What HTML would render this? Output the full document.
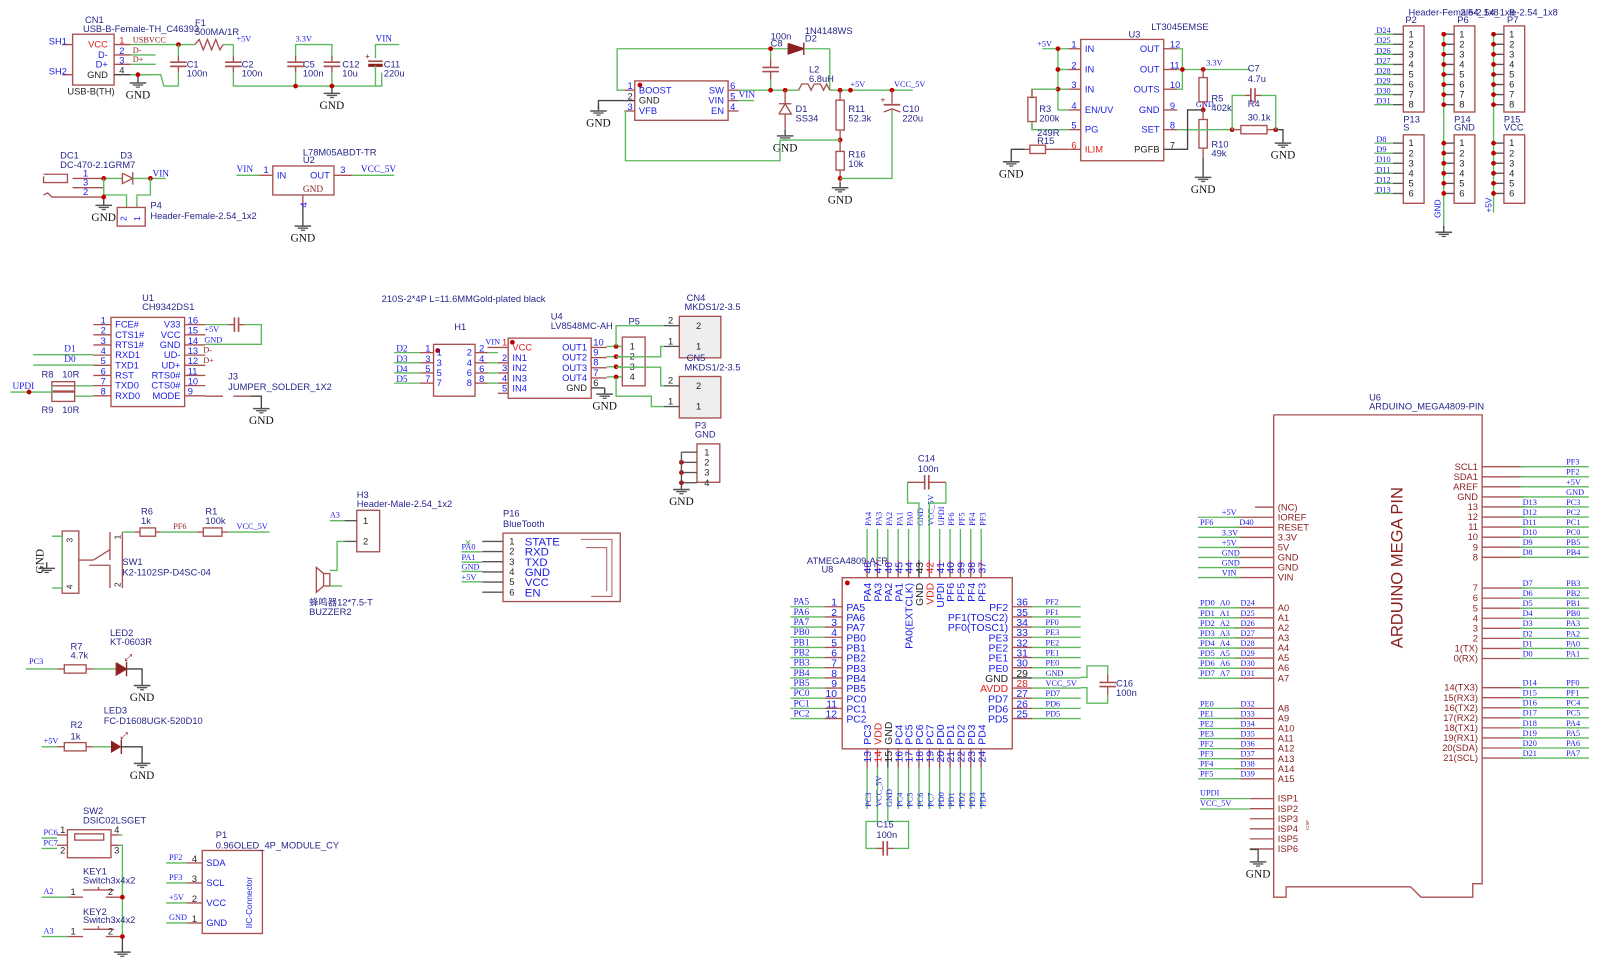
<!DOCTYPE html>
<html><head><meta charset="utf-8"><style>
html,body{margin:0;padding:0;background:#fff;}
svg{display:block;}
</style></head><body>
<svg id="s" xmlns="http://www.w3.org/2000/svg" width="1618" height="971" viewBox="0 0 1560 936.2" preserveAspectRatio="none"></svg>
<script>
var S=document.getElementById('s'),out=[];
var RED='#a85050',GR='#5cb85c',BL='#1a1ae6',NM='#26268a',DR='#8b2020';
function L(x1,y1,x2,y2,c,w){out.push('<line x1="'+x1+'" y1="'+y1+'" x2="'+x2+'" y2="'+y2+'" stroke="'+(c||GR)+'" stroke-width="'+(w||1.3)+'"/>');}
function PL(pts,c,w){out.push('<polyline points="'+pts+'" fill="none" stroke="'+(c||GR)+'" stroke-width="'+(w||1.3)+'"/>');}
function T(x,y,s,o){o=o||{};var f=o.serif?'"Liberation Serif",serif':'"Liberation Sans","Noto Sans CJK SC",sans-serif';
 var tr=o.rot?' transform="rotate(-90 '+x+' '+y+')"':'';
 out.push('<text x="'+x+'" y="'+y+'" font-family=\''+f+'\' font-size="'+(o.sz||9)+'" fill="'+(o.c||BL)+'" text-anchor="'+(o.a||'start')+'"'+tr+'>'+s+'</text>');}
function N(x,y,s){T(x,y,s,{c:NM,sz:9});}
function SL(x,y,s,o){o=o||{};o.serif=true;o.sz=o.sz||9;T(x,y,s,o);}
function B(x,y,w,h,fill){out.push('<rect x="'+x+'" y="'+y+'" width="'+w+'" height="'+h+'" fill="'+(fill||'none')+'" stroke="'+RED+'" stroke-width="1.3"/>');}
function D(x,y){out.push('<circle cx="'+x+'" cy="'+y+'" r="2.3" fill="#c00000"/>');}
function G(x,y,lab){L(x,y,x,y+6,'#444');L(x-8,y+6,x+8,y+6,'#555',1.5);L(x-5,y+8,x+5,y+8,'#555',1.3);L(x-2,y+10,x+2,y+10,'#555',1.2);if(lab!==false)SL(x,y+21,'GND',{c:'#111',sz:11,a:'middle'});}
function RV(x,y1,y2){L(x,y1,x,y1+(y2-y1)*0.2,RED);B(x-4,y1+(y2-y1)*0.2,8,(y2-y1)*0.6);L(x,y1+(y2-y1)*0.8,x,y2,RED);}
function RH(x1,x2,y){L(x1,y,x1+(x2-x1)*0.2,y,RED);B(x1+(x2-x1)*0.2,y-4,(x2-x1)*0.6,8);L(x1+(x2-x1)*0.8,y,x2,y,RED);}
function CV(x,y1,y2){var m=(y1+y2)/2;L(x,y1,x,m-2,RED);L(x,m+2,x,y2,RED);L(x-8,m-2,x+8,m-2,RED,1.6);L(x-8,m+2,x+8,m+2,RED,1.6);}
function CH(x1,x2,y){var m=(x1+x2)/2;L(x1,y,m-2,y,RED);L(m+2,y,x2,y,RED);L(m-2,y-7,m-2,y+7,RED,1.6);L(m+2,y-7,m+2,y+7,RED,1.6);}

/* ===== USB CN1 ===== */
B(70,33,40,49);
[[43,'VCC','#e02020','1'],[53,'D-',BL,'2'],[62,'D+',BL,'3'],[72,'GND','#222','4']].forEach(function(p,i){L(110,p[0],126,p[0],i==3?'#444':RED);L(126,p[0],150,p[0],GR);T(104,p[0]+3,p[1],{c:p[2],a:'end',sz:9});T(115,p[0]-1,p[3],{c:i==0?'#e02020':i==3?'#222':BL,sz:9});});
L(60,43,70,43,RED);L(60,72,70,72,RED);T(47,43,'SH1',{sz:9});T(47,72,'SH2',{sz:9});
N(82,22,'CN1');N(80,31,'USB-B-Female-TH_C46393');T(65,91,'USB-B(TH)',{c:'#222',sz:9});
SL(128,41,'USBVCC',{c:DR,sz:8});SL(128,51,'D-',{c:DR,sz:8});SL(128,60,'D+',{c:DR,sz:8});
L(150,43,188,43);D(172,43);PL('188,43 192,38 196,48 200,38 204,48 208,38 212,48 215,43',RED);L(215,43,225,43);
SL(228,40,'+5V',{sz:8});N(188,25,'F1');N(188,34,'500MA/1R');
PL('126,72 155,72 158,83 172,83');D(133,72);G(133,74);
L(172,43,172,54);CV(172,54,70);L(172,70,172,83);N(180,65,'C1');N(180,74,'100n');
L(225,43,225,54);CV(225,54,70);PL('225,70 225,83 368,83 368,70');N(233,65,'C2');N(233,74,'100n');
PL('285,56 285,43 320,43 320,56');CV(285,54,70);L(285,70,285,83);CV(320,54,70);L(320,70,320,83);D(285,83);D(320,83);G(320,84);
N(292,65,'C5');N(292,74,'100n');N(330,65,'C12');N(330,74,'10u');SL(285,40,'3.3V',{sz:8});
PL('362,56 362,43 385,43');L(355,59,369,59,RED,1.6);L(355,63,369,63,DR,3);T(352,57,'+',{c:DR,sz:8});L(362,63,362,83);N(370,65,'C11');N(370,74,'220u');SL(362,40,'VIN',{sz:9});

/* DC1 */
PL('42,170 42,176 65,176 65,168 42,168',RED);L(70,172,100,172,RED);L(70,181,100,181,RED);PL('42,188 46,186 50,190 100,190',RED);
T(80,170,'1');T(80,179,'3');T(80,188,'2');N(58,153,'DC1');N(58,162,'DC-470-2.1GRM7');
L(100,172,118,172);PL('118,167 118,177 128,172 118,167',RED);L(128,166,128,178,RED);L(128,172,160,172);D(100,172);D(145,172);SL(147,170,'VIN');
N(116,153,'D3');PL('100,172 100,188 122,188 122,200');PL('145,172 145,188 132,188 132,200');L(100,181,100,190);D(100,190);G(100,192);
B(113,200,27,18);T(122,213,'2',{sz:8,rot:true});T(135,213,'1',{sz:8,rot:true});N(145,201,'P4');N(145,211,'Header-Female-2.54_1x2');

/* U2 */
B(263,160,59,28);T(267,172,'IN',{sz:9});T(318,172,'OUT',{sz:9,a:'end'});SL(292,185,'GND',{c:DR});
L(228,169,250,169);L(250,169,263,169,RED);T(254,167,'1');SL(228,166,'VIN');L(322,169,340,169,RED);L(340,169,380,169);T(328,167,'3');SL(348,166,'VCC_5V');
L(292,188,292,197,RED);L(292,197,292,212,'#444');T(296,200,'4',{rot:true});G(292,212);N(292,150,'L78M05ABDT-TR');N(292,157,'U2');

/* MCP16331 */
B(612,78,90,38);D(617,82);T(616,90,'BOOST');T(616,100,'GND',{c:'#222'});T(616,110,'VFB');T(698,90,'SW',{a:'end'});T(698,100,'VIN',{a:'end'});T(698,110,'EN',{a:'end'});
L(602,87,612,87,RED);L(602,97,612,97,'#444');L(602,107,612,107,RED);T(605,86,'1');T(605,96,'2',{c:'#222'});T(605,106,'3');
L(702,87,712,87,RED);L(702,97,712,97,RED);L(702,107,712,107,RED);T(704,86,'6');T(704,96,'5');T(704,106,'4');
SL(712,94,'VIN');L(712,97,727,97);
PL('602,87 595,87 595,47 760,47');PL('577,105 577,97 602,97','#444');G(577,101);
L(743,47,743,57);CV(743,57,77);L(743,77,743,87);D(743,47);N(743,38,'100n');N(743,45,'C8');
PL('760,42 760,52 775,47 760,42',DR);out.push('<polygon points="760,42 760,52 775,47" fill="'+DR+'"/>');L(775,41,775,53,DR);L(775,47,800,47);PL('800,47 800,87');N(776,33,'1N4148WS');N(776,40,'D2');
L(712,87,770,87);PL('770,87 773,81 779,81 782,87 785,81 791,81 794,87 797,81 800,87',RED);L(800,87,880,87);N(780,70,'L2');N(780,79,'6.8uH');
D(743,87);D(757,87);D(810,87);D(820,87);D(860,87);SL(820,84,'+5V',{sz:8});SL(862,84,'VCC_5V',{sz:8});
L(757,87,757,100,RED);PL('751,110 763,110 757,100 751,110',RED);L(751,100,763,100,RED);L(757,110,757,125,RED);G(757,125);N(767,108,'D1');N(767,117,'SS34');
RV(810,87,135);D(810,135);RV(810,140,170);D(810,172);L(810,135,810,140,RED);G(810,175);N(818,108,'R11');N(818,117,'52.3k');N(818,152,'R16');N(818,161,'10k');
PL('602,107 603,107 603,155 752,155 752,135 810,135');
L(860,87,860,100,RED);L(852,101,868,101,RED,1.6);PL('852,108 860,105 868,108',RED);T(849,99,'+',{c:DR,sz:8});PL('860,106 860,172 810,172');N(870,108,'C10');N(870,117,'220u');

/* LT3045 */
B(1042,38,80,117);var ly=[47,67,86,106,125,144],ln=['IN','IN','IN','EN/UV','PG','ILIM'],rn=['OUT','OUT','OUTS','GND','SET','PGFB'],rp=['12','11','10','9','8','7'];
ly.forEach(function(y,i){L(1030,y,1042,y,RED);L(1122,y,1135,y,i==5?'#444':RED);T(1046,y+3,ln[i],{c:i==5?'#e02020':BL});T(1118,y+3,rn[i],{a:'end',c:i==5?'#222':BL});T(1033,y-1,''+(i+1),{c:i==5?'#e02020':BL});T(1128,y-1,rp[i],{c:i==5?'#222':BL});});
N(1110,29,'LT3045EMSE');N(1088,36,'U3');SL(1000,45,'+5V',{sz:8});L(1005,47,1030,47);PL('1020,47 1020,106 1030,106');L(1020,67,1030,67);L(1020,86,1030,86);D(1020,47);D(1020,67);D(1020,86);
PL('1020,86 995,86 995,95');RV(995,86,125);PL('995,117 995,125 1030,125');N(1002,108,'R3');N(1002,117,'200k');
L(1030,144,1013,144,RED);RH(988,1013,144);PL('988,144 975,144 975,150','#444');G(975,150);N(1000,131,'249R');N(1000,139,'R15');
PL('1135,47 1140,47 1140,86 1135,86');L(1135,67,1205,67);D(1140,67);D(1160,67);SL(1163,63,'3.3V',{sz:8});SL(1153,103,'GND',{sz:8});
RV(1160,67,106);D(1160,106);RV(1160,106,152);L(1160,152,1160,165,'#444');G(1160,165);N(1168,98,'R5');N(1168,107,'402k');N(1168,142,'R10');N(1168,151,'49k');
L(1135,125,1188,125);D(1188,125);RH(1188,1230,125);D(1230,125);PL('1230,125 1237,125 1237,132','#444');G(1237,132);
PL('1188,125 1188,92 1200,92');CH(1200,1216,92);PL('1216,92 1230,92 1230,125');N(1203,69,'C7');N(1203,79,'4.7u');N(1203,103,'R4');N(1203,116,'30.1k');
PL('1135,144 1145,144 1145,106 1160,106','#444');

/* Headers top-right */
function hdr(x,y,n,h){B(x,y,20,h);for(var i=0;i<n;i++){var yy=y+8+i*9.7;L(x-10,yy,x,yy,'#555');T(x+5,yy+3,''+(i+1),{c:'#222'});}}
hdr(1353,25,8,83);hdr(1402,25,8,83);hdr(1450,25,8,83);hdr(1353,130,6,66);hdr(1402,130,6,66);hdr(1450,130,6,66);
for(var i=0;i<8;i++){var yy=33+i*9.7;L(1325,yy,1343,yy);SL(1327,yy-1,'D'+(24+i),{sz:8});L(1392,yy,1392,yy);}
for(var i=0;i<6;i++){var yy=138+i*9.7;L(1325,yy,1343,yy);SL(1327,yy-1,'D'+(8+i),{sz:8});}
L(1392,33,1392,220);for(var i=0;i<8;i++){D(1392,33+i*9.7);}for(var i=0;i<6;i++){D(1392,138+i*9.7);}G(1392,218,false);T(1389,210,'GND',{rot:true,sz:8});
L(1440,33,1440,205);for(var i=0;i<8;i++){D(1440,33+i*9.7);}for(var i=0;i<6;i++){D(1440,138+i*9.7);}T(1438,205,'+5V',{rot:true,sz:8});
N(1358,15,'Header-Female-2.54_1x8');N(1408,15,'2.54_1x8');N(1455,15,'le-2.54_1x8');N(1355,22,'P2');N(1405,22,'P6');N(1453,22,'P7');
N(1353,118,'P13');N(1353,126,'S');N(1402,118,'P14');N(1402,126,'GND');N(1450,118,'P15');N(1450,126,'VCC');

/* CH9342 U1 */
B(107,306,71,86);var cl=['FCE#','CTS1#','RTS1#','RXD1','TXD1','RST','TXD0','RXD0'],cr=['V33','VCC','GND','UD-','UD+','RTS0#','CTS0#','MODE'],cp=['16','15','14','13','12','11','10','9'];
for(var i=0;i<8;i++){var yy=313+i*9.8;L(90,yy,107,yy,RED);L(178,yy,198,yy,RED);T(111,yy+3,cl[i]);T(174,yy+3,cr[i],{a:'end'});T(97,yy-1,''+(i+1));T(181,yy-1,cp[i]);}
N(137,290,'U1');N(137,299,'CH9342DS1');L(32,342,90,342);L(32,352,90,352);SL(62,339,'D1');SL(62,349,'D0');
B(50,368,22,9);B(50,378,22,9);L(50,372,72,372,RED);PL('28,378 50,378 50,372',GR);PL('72,372 90,372');PL('72,382 90,382');L(10,378,30,378);D(28,378);SL(12,375,'UPDI');
N(40,364,'R8');N(60,364,'10R');N(40,398,'R9');N(60,398,'10R');
L(198,313,220,313);CH(220,236,313);PL('236,313 252,313 252,332 198,332');SL(197,320,'+5V',{sz:8});SL(197,330,'GND',{sz:8});SL(196,340,'D-',{c:DR,sz:8});SL(196,350,'D+',{c:DR,sz:8});
L(198,382,215,382,RED);L(225,382,242,382,RED);PL('242,382 252,382 252,388','#444');G(252,388);N(220,366,'J3');N(220,376,'JUMPER_SOLDER_1X2');

/* H1 / U4 */
N(368,291,'210S-2*4P L=11.6MMGold-plated black');N(438,318,'H1');B(418,332,40,50);D(422,338);
for(var i=0;i<4;i++){var yy=340+i*9.8;L(380,yy,405,yy);L(405,yy,418,yy,RED);L(458,yy,470,yy,RED);L(470,yy,480,yy);L(480,yy+9.8,490,yy+9.8,RED);SL(382,yy-1,'D'+(2+i));T(410,yy-1,''+(2*i+1));T(421,yy+3,''+(2*i+1));T(450,yy+3,''+(2*i+2));T(462,yy-1,''+(2*i+2));T(484,yy+8,''+(i+2));}
B(490,326,80,58);D(494,330);T(494,338,'VCC',{c:'#e02020'});['IN1','IN2','IN3','IN4'].forEach(function(s,i){T(494,348+i*9.8,s);});
['OUT1','OUT2','OUT3','OUT4'].forEach(function(s,i){T(566,338+i*9.8,s,{a:'end'});L(570,335+i*9.8,585,335+i*9.8,RED);T(572,333+i*9.8,''+(10-i));});T(566,377,'GND',{a:'end',c:'#222'});T(572,372,'6',{c:'#222'});
L(470,335,490,335,RED);SL(468,332,'VIN',{sz:8});T(484,333,'1',{c:'#e02020'});L(570,374,583,374,'#444');G(583,374);
N(531,308,'U4');N(531,317,'LV8548MC-AH');
B(600,325,22,47);N(606,313,'P5');for(var i=0;i<4;i++){var yy=334+i*9.8;L(585,yy,600,yy);D(594,yy);T(607,yy+3,''+(i+1),{c:'#222'});}
B(655,305,40,40,'#eee');B(655,363,40,40,'#eee');T(671,317,'2',{c:'#222'});T(671,337,'1',{c:'#222'});T(671,375,'2',{c:'#222'});T(671,395,'1',{c:'#222'});
L(640,314,655,314,'#555');L(640,334,655,334,'#555');L(640,372,655,372,'#555');L(640,392,655,392,'#555');T(644,312,'2',{c:'#222'});T(644,332,'1',{c:'#222'});T(644,370,'2',{c:'#222'});T(644,390,'1',{c:'#222'});
PL('594,334 594,314 640,314');PL('594,344 637,344 637,334 640,334');PL('594,354 637,354 637,372 640,372');PL('594,364 594,382 628,382 628,392 640,392');
N(662,290,'CN4');N(660,299,'MKDS1/2-3.5');N(662,348,'CN5');N(660,357,'MKDS1/2-3.5');
B(672,428,22,37);N(670,413,'P3');N(670,422,'GND');for(var i=0;i<4;i++){var yy=436+i*9.8;L(657,yy,672,yy,'#555');T(679,yy+3,''+(i+1),{c:'#222'});if(i)D(657,yy);}L(657,436,657,466,'#555');G(657,466);

/* SW1 */
B(60,512,16,60);T(70,523,'3',{c:'#222',sz:8,rot:true});T(70,568,'4',{c:'#222',sz:8,rot:true});PL('50,517 60,517 60,567 50,567');G(45,542,false);T(42,553,'GND',{serif:true,rot:true,sz:11,c:'#111'});
L(76,540,90,540,RED);L(90,540,106,530,RED);L(106,513,106,540,RED);L(106,545,106,567,RED);L(86,545,106,545,RED);L(118,513,118,567,RED);T(116,520,'1',{c:'#222',rot:true,sz:8});T(116,566,'2',{c:'#222',rot:true,sz:8});
L(118,513,130,513);RH(130,155,513);L(155,513,190,513);RH(190,220,513);L(220,513,260,513);SL(167,510,'PF6',{c:DR,sz:8});SL(228,510,'VCC_5V',{sz:8});
N(136,496,'R6');N(136,505,'1k');N(198,496,'R1');N(198,505,'100k');N(118,545,'SW1');N(118,555,'K2-1102SP-D4SC-04');

/* H3 buzzer */
B(344,492,22,40);T(350,505,'1',{c:'#222'});T(350,525,'2',{c:'#222'});L(332,502,344,502,'#555');L(332,522,344,522,'#555');
PL('318,502 332,502');PL('332,522 325,522 325,550 318,550');SL(318,499,'A3',{sz:8});N(344,480,'H3');N(344,489,'Header-Male-2.54_1x2');
B(312,553,6,12);PL('312,553 305,547 305,571 312,565',RED);L(318,565,330,565);T(298,584,'蜂鸣器12*7.5-T',{c:NM});N(298,593,'BUZZER2');

/* P16 */
B(485,514,113,66);N(485,498,'P16');N(485,508,'BlueTooth');
['STATE','RXD','TXD','GND','VCC','EN'].forEach(function(s,i){var yy=522+i*9.8;L(465,yy,485,yy,i==0?'#555':'#555');T(491,yy+3,''+(i+1),{c:'#222'});T(506,yy+4,s,{sz:11});});
L(445,532,465,532);L(445,542,465,542);L(445,551,465,551);L(445,561,465,561);SL(445,530,'PA0',{sz:8});SL(445,540,'PA1',{sz:8});SL(445,549,'GND',{sz:8});SL(445,559,'+5V',{sz:8});T(448,526,'✕',{c:GR,sz:8});
PL('560,520 590,520 590,575 570,575',RED,0.9);PL('565,528 585,528 585,570',RED,0.9);

/* LEDs */
L(25,645,55,645);RH(55,90,645);L(90,645,112,645);PL('112,639 112,651 122,645 112,639',RED);out.push('<polygon points="112,639 112,651 122,645" fill="'+DR+'"/>');L(122,638,122,652,DR);PL('122,645 137,645 137,655','#444');G(137,655);
SL(28,640,'PC3',{sz:8});N(106,613,'LED2');N(106,622,'KT-0603R');N(68,626,'R7');N(68,635,'4.7k');T(120,637,'⤢',{c:DR,sz:9});
L(40,720,55,720);RH(55,90,720);L(90,720,107,720);out.push('<polygon points="107,714 107,726 117,720" fill="'+DR+'"/>');L(117,713,117,727,DR);PL('117,720 137,720 137,730','#444');G(137,730);
SL(42,717,'+5V',{sz:8});N(100,688,'LED3');N(100,698,'FC-D1608UGK-520D10');N(68,702,'R2');N(68,713,'1k');T(116,712,'⤢',{c:DR,sz:9});

/* SW2 / keys */
B(65,800,42,27);B(72,804,28,6);L(55,805,65,805,RED);L(55,815,65,815,RED);L(107,805,115,805,RED);L(107,815,115,815,RED);
L(40,808,55,808);L(40,818,55,818);SL(42,805,'PC6',{sz:8});SL(42,815,'PC7',{sz:8});T(58,803,'1',{c:'#222'});T(58,823,'2',{c:'#222'});T(110,803,'4',{c:'#222'});T(110,823,'3',{c:'#222'});
N(80,785,'SW2');N(80,794,'DSIC02LSGET');PL('115,815 118,815 118,905');PL('115,805 118,805');
L(40,865,65,865);L(65,865,80,865,RED);L(80,858,110,858,RED);L(95,855,95,858,RED);L(102,865,118,865,RED);SL(42,862,'A2',{sz:8});T(68,863,'1',{c:'#222'});T(104,863,'2',{c:'#222'});D(118,865);N(80,843,'KEY1');N(80,852,'Switch3x4x2');
L(40,903,65,903);L(65,903,80,903,RED);L(80,896,110,896,RED);L(95,893,95,896,RED);L(102,903,118,903,RED);SL(42,900,'A3',{sz:8});T(68,901,'1',{c:'#222'});T(104,901,'2',{c:'#222'});D(118,903);N(80,882,'KEY2');N(80,890,'Switch3x4x2');
L(118,905,118,912,'#444');G(118,912,false);

/* P1 OLED */
B(195,820,58,80);N(208,808,'P1');N(208,818,'0.96OLED_4P_MODULE_CY');
['SDA','SCL','VCC','GND'].forEach(function(s,i){var yy=832+i*19.3;L(180,yy,195,yy,RED);L(160,yy,180,yy);T(199,yy+3,s);T(185,yy-1,''+(4-i),{c:'#222'});SL(163,yy-3,['PF2','PF3','+5V','GND'][i],{sz:8});});
T(243,895,'IIC-Connector',{rot:true,sz:8});

/* ATMEGA4809 U8 */
B(812,557,164,165);D(817,562);N(778,544,'ATMEGA4809-AFR');N(792,552,'U8');
var ln8=['PA5','PA6','PA7','PB0','PB1','PB2','PB3','PB4','PB5','PC0','PC1','PC2'];
ln8.forEach(function(s,i){var yy=585+i*9.8;L(762,yy,795,yy);L(795,yy,812,yy,RED);SL(765,yy-2,s);T(807,yy-1,''+(i+1),{a:'end',sz:10});T(816,yy+4,s,{sz:10});});
var rn8=['PF2','PF1(TOSC2)','PF0(TOSC1)','PE3','PE2','PE1','PE0','GND','AVDD','PD7','PD6','PD5'],rl8=['PF2','PF1','PF0','PE3','PE2','PE1','PE0','GND','VCC_5V','PD7','PD6','PD5'];
rn8.forEach(function(s,i){var yy=585+i*9.8;var c=i==7?'#222':i==8?'#e02020':BL;L(976,yy,995,yy,i==7?'#444':RED);L(995,yy,1042,yy);T(972,yy+4,s,{a:'end',sz:10,c:c});T(980,yy-1,''+(36-i),{sz:10,c:c});SL(1008,yy-2,rl8[i],{sz:8});});
PL('1042,653 1048,653 1048,642 1068,642 1068,650');CV(1068,650,670);PL('1068,670 1068,678 1048,678 1048,663 1042,663');N(1076,662,'C16');N(1076,671,'100n');
var tn=['PA4','PA3','PA2','PA1','PA0(EXTCLK)','GND','VDD','UPDI','PF6','PF5','PF4','PF3'],tl=['PA4','PA3','PA2','PA1','PA0','GND','VCC_5V','UPDI','PF6','PF5','PF4','PF3'];
tn.forEach(function(s,i){var x=836+i*10;var c=i==5?'#222':i==6?'#e02020':BL;L(x,510,x,540);L(x,540,x,557,i==5?'#444':RED);SL(x+4,507,tl[i],{rot:true,sz:8});T(x+4,553,''+(48-i),{rot:true,sz:10,c:c});T(x+4,562,s,{rot:true,a:'end',sz:10,c:c});});
PL('886,510 886,485 875,485 875,465');CH(875,912,465);PL('912,465 912,485 896,485 896,510');N(885,445,'C14');N(885,455,'100n');
var bn=['PC3','VDD','GND','PC4','PC5','PC6','PC7','PD0','PD1','PD2','PD3','PD4'],bl=['PC3','VCC_5V','GND','PC4','PC5','PC6','PC7','PD0','PD1','PD2','PD3','PD4'];
bn.forEach(function(s,i){var x=836+i*10;var c=i==2?'#222':i==1?'#e02020':BL;L(x,722,x,740,i==2?'#444':RED);L(x,740,x,780);T(x+4,718,s,{rot:true,sz:10,c:c});T(x+4,724,''+(13+i),{rot:true,a:'end',sz:10,c:c});SL(x+4,778,bl[i],{rot:true,sz:8});});
PL('846,780 846,792 835,792 835,818 845,818');CH(845,862,818);PL('862,818 876,818 876,792 856,792 856,780');N(845,798,'C15');N(845,808,'100n');

/* Arduino U6 */
PL('1228,400 1429,400 1429,852 1420,852 1420,865 1370,865 1360,855 1240,855 1240,865 1228,865 1228,400',RED);
N(1320,386,'U6');N(1320,395,'ARDUINO_MEGA4809-PIN');
T(1352,625,'ARDUINO MEGA PIN',{rot:true,sz:16,c:DR});T(1262,800,'ICSP',{rot:true,sz:4,c:DR});
function lp(y,name,a,b,c){L(1190,y,1228,y,RED);if(a!==null)L(1155,y,1196,y);T(1232,y+3,name,{c:DR,sz:9});if(a)SL(a[0],y-2,a[1],{sz:8});if(b)SL(b[0],y-2,b[1],{sz:8});if(c)SL(c[0],y-2,c[1],{sz:8});}
var g1=[['(NC)',null],['IOREF',[1178,'+5V']],['RESET',[1195,'D40']],['3.3V',[1178,'3.3V']],['5V',[1178,'+5V']],['GND',[1178,'GND']],['GND',[1178,'GND']],['VIN',[1178,'VIN']]];
g1.forEach(function(p,i){var y=489+i*9.7;if(i==0){L(1210,y,1228,y,RED);T(1232,y+3,p[0],{c:DR});}else lp(y,p[0],p[1],i==2?[1157,'PF6']:null);});
for(var i=0;i<8;i++){var y=586+i*9.7;lp(y,'A'+i,[1157,['PD0','PD1','PD2','PD3','PD5','PD6','PD7','PD7'][i]==''?'':['PD0','PD1','PD2','PD3','PD4','PD5','PD6','PD7'][i]],[1176,'A'+i],[1196,'D'+(24+i)]);}
var pe=['PE0','PE1','PE2','PE3','PF2','PF3','PF4','PF5'];
for(var i=0;i<8;i++){var y=683+i*9.7;lp(y,'A'+(8+i),[1157,pe[i]],[1196,'D'+(32+i)]);}
for(var i=0;i<6;i++){var y=770+i*9.7;L(1205,y,1228,y,RED);T(1232,y+3,'ISP'+(i+1),{c:DR});}
L(1157,770,1205,770);L(1157,780,1205,780);SL(1157,767,'UPDI',{sz:8});SL(1157,777,'VCC_5V',{sz:8});PL('1205,819 1213,819 1213,825','#444');G(1213,825);
function rp2(y,name,d,p){L(1429,y,1470,y,RED);L(1465,y,1532,y);T(1425,y+3,name,{a:'end',c:DR,sz:9});if(d)SL(d=='_'?1468:1468,y-2,d,{sz:8});if(p)SL(1510,y-2,p,{sz:8});}
var r1=[['SCL1','','PF3'],['SDA1','','PF2'],['AREF','','+5V'],['GND','','GND'],['13','D13','PC3'],['12','D12','PC2'],['11','D11','PC1'],['10','D10','PC0'],['9','D9','PB5'],['8','D8','PB4']];
r1.forEach(function(p,i){rp2(450+i*9.7,p[0],p[1],p[2]);});
var r2=[['7','D7','PB3'],['6','D6','PB2'],['5','D5','PB1'],['4','D4','PB0'],['3','D3','PA3'],['2','D2','PA2'],['1(TX)','D1','PA0'],['0(RX)','D0','PA1']];
r2.forEach(function(p,i){rp2(567+i*9.7,p[0],p[1],p[2]);});
var r3=[['14(TX3)','D14','PF0'],['15(RX3)','D15','PF1'],['16(TX2)','D16','PC4'],['17(RX2)','D17','PC5'],['18(TX1)','D18','PA4'],['19(RX1)','D19','PA5'],['20(SDA)','D20','PA6'],['21(SCL)','D21','PA7']];
r3.forEach(function(p,i){rp2(663+i*9.7,p[0],p[1],p[2]);});

S.innerHTML=out.join('');
</script>
</body></html>
